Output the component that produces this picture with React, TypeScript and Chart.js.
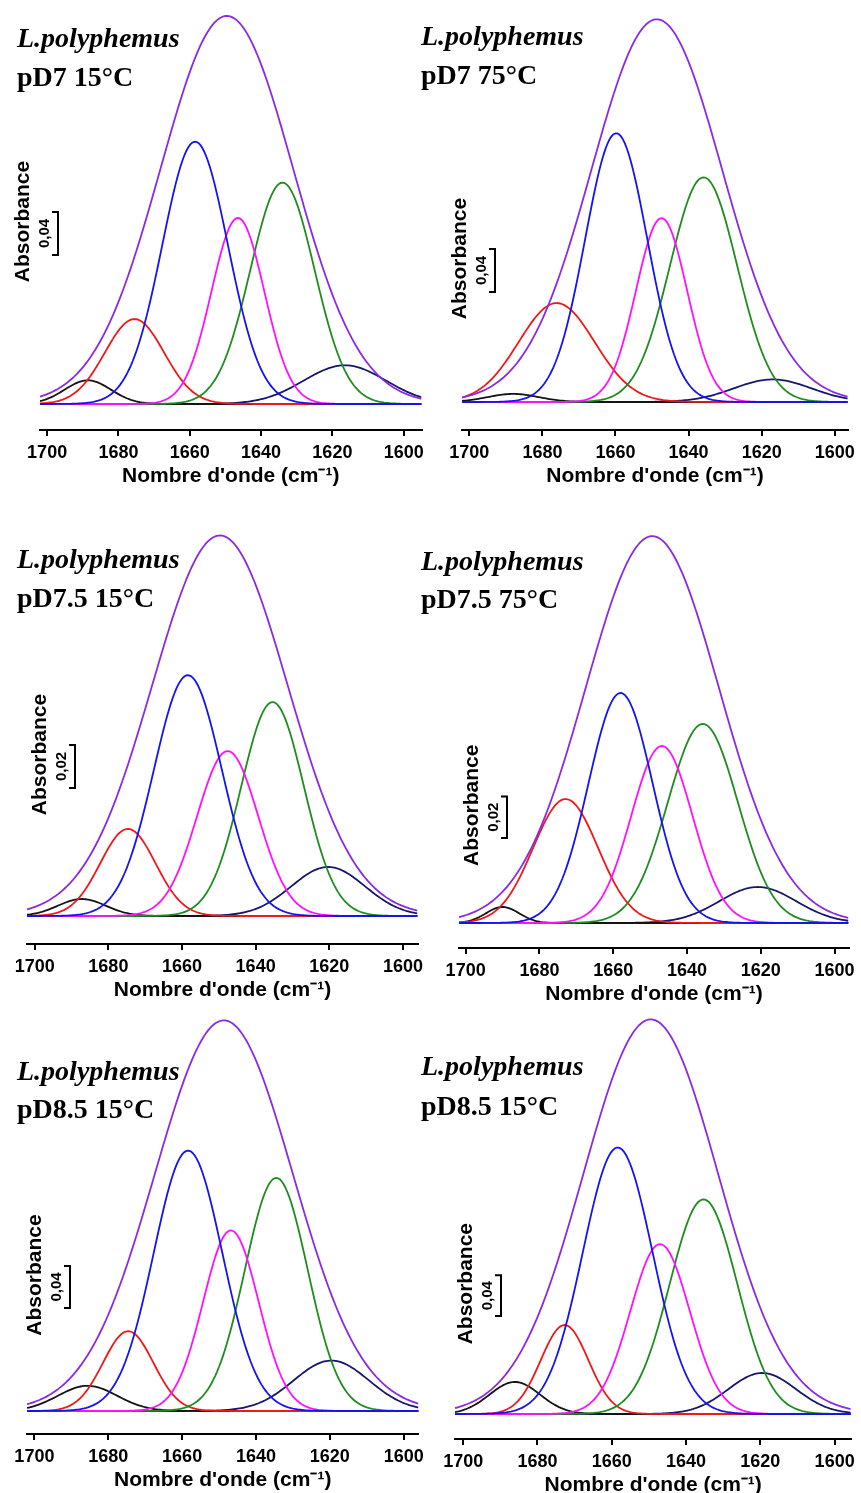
import React, { useEffect, useRef } from "react";
import { Chart, registerables } from "chart.js";

Chart.register(...registerables);

// ---------- shared labels ----------
const X_TICKS = [1700, 1680, 1660, 1640, 1620, 1600];
const X_TITLE = "Nombre d'onde (cm\u207B\u00B9)";
const Y_TITLE = "Absorbance";
const SPECIES = "L.polyphemus";
const CONDITIONS = ["pD7 15°C", "pD7 75°C", "pD7.5 15°C", "pD7.5 75°C", "pD8.5 15°C", "pD8.5 15°C"];
const SCALE_VALUES = [0.04, 0.04, 0.02, 0.02, 0.04, 0.04];
const SCALE_LABELS = ["0,04", "0,04", "0,02", "0,02", "0,04", "0,04"];

// band order: envelope, ~1659 (blue), ~1647 (magenta), ~1635 (green), ~1675 (red), ~1688 (black), ~1618 (navy)
const BAND_NAMES = ["Spectre", "Bande 1659", "Bande 1647", "Bande 1635", "Bande 1675", "Bande 1688", "Bande 1618"];
const BAND_COLORS = ["#8a2be2", "#1414f0", "#ff10ff", "#1e8c1e", "#f01818", "#141414", "#16166e"];

// ---------- band parameters (centre cm-1, height abs, half-width sigma cm-1) ----------
const P1_CENTERS = [1649.6, 1658.5, 1646.5, 1634.0, 1675.5, 1688.6, 1616.5];
const P1_HEIGHTS = [0.361, 0.244, 0.173, 0.206, 0.079, 0.022, 0.036];
const P1_WIDTHS = [18.6, 9.2, 7.4, 9.0, 8.3, 6.5, 11.5];

const P2_CENTERS = [1648.7, 1659.8, 1647.4, 1635.9, 1676.1, 1688.0, 1617.0];
const P2_HEIGHTS = [0.356, 0.25, 0.171, 0.209, 0.092, 0.0075, 0.021];
const P2_WIDTHS = [17.9, 8.5, 7.0, 9.2, 10.4, 7.0, 10.6];

const P3_CENTERS = [1649.7, 1658.4, 1647.6, 1635.4, 1674.7, 1687.2, 1620.3];
const P3_HEIGHTS = [0.177, 0.112, 0.0767, 0.0995, 0.0405, 0.0079, 0.0228];
const P3_WIDTHS = [18.4, 9.25, 8.3, 8.5, 7.5, 6.5, 10.0];

const P4_CENTERS = [1649.4, 1658.0, 1646.8, 1635.7, 1672.9, 1690.0, 1620.8];
const P4_HEIGHTS = [0.186, 0.1106, 0.0851, 0.0957, 0.0596, 0.0077, 0.0173];
const P4_WIDTHS = [18.1, 8.7, 8.3, 9.5, 8.8, 4.5, 10.4];

const P5_CENTERS = [1648.7, 1658.4, 1646.8, 1634.5, 1674.6, 1685.6, 1619.6];
const P5_HEIGHTS = [0.372, 0.248, 0.172, 0.222, 0.076, 0.024, 0.048];
const P5_WIDTHS = [18.7, 9.3, 7.5, 8.5, 6.8, 8.0, 10.2];

const P6_CENTERS = [1649.5, 1658.4, 1647.0, 1635.3, 1672.7, 1686.1, 1619.5];
const P6_HEIGHTS = [0.388, 0.262, 0.167, 0.211, 0.0875, 0.0315, 0.0403];
const P6_WIDTHS = [18.2, 9.4, 8.0, 9.1, 6.4, 6.8, 9.1];

const CENTERS = [P1_CENTERS, P2_CENTERS, P3_CENTERS, P4_CENTERS, P5_CENTERS, P6_CENTERS];
const HEIGHTS = [P1_HEIGHTS, P2_HEIGHTS, P3_HEIGHTS, P4_HEIGHTS, P5_HEIGHTS, P6_HEIGHTS];
const WIDTHS = [P1_WIDTHS, P2_WIDTHS, P3_WIDTHS, P4_WIDTHS, P5_WIDTHS, P6_WIDTHS];

// ---------- layout (absolute page pixels) ----------
type Layout = {
  cLeft: number; cTop: number; cWidth: number;
  areaLeft: number; areaRight: number; axisY: number; baselineY: number;
  pxPerUnit: number; xLeft: number; xRight: number;
  barX: number; barBottom: number;
  titleX: number; title1Y: number; title2Y: number;
};

const LAYOUTS: Layout[] = [
  { cLeft: 0, cTop: 0, cWidth: 430, areaLeft: 40, areaRight: 424, axisY: 430, baselineY: 404, pxPerUnit: 1075, xLeft: 1702, xRight: 1595, barX: 58, barBottom: 255, titleX: 17, title1Y: 47, title2Y: 86 },
  { cLeft: 410, cTop: 0, cWidth: 451, areaLeft: 462, areaRight: 855, axisY: 430, baselineY: 402, pxPerUnit: 1075, xLeft: 1702, xRight: 1596.4, barX: 495, barBottom: 292, titleX: 421, title1Y: 45, title2Y: 84 },
  { cLeft: 0, cTop: 500, cWidth: 430, areaLeft: 27, areaRight: 418, axisY: 944, baselineY: 916, pxPerUnit: 2150, xLeft: 1702.1, xRight: 1595.9, barX: 75, barBottom: 788, titleX: 17, title1Y: 568, title2Y: 607 },
  { cLeft: 410, cTop: 500, cWidth: 451, areaLeft: 459, areaRight: 849, axisY: 948, baselineY: 923, pxPerUnit: 2080, xLeft: 1701.8, xRight: 1596.1, barX: 507, barBottom: 838, titleX: 421, title1Y: 570, title2Y: 608 },
  { cLeft: 0, cTop: 1000, cWidth: 430, areaLeft: 27, areaRight: 423, axisY: 1434, baselineY: 1411, pxPerUnit: 1050, xLeft: 1702, xRight: 1596, barX: 70, barBottom: 1308, titleX: 17, title1Y: 1080, title2Y: 1118 },
  { cLeft: 410, cTop: 1000, cWidth: 451, areaLeft: 455, areaRight: 853, axisY: 1439, baselineY: 1414, pxPerUnit: 1017, xLeft: 1702.2, xRight: 1595.5, barX: 501, barBottom: 1316, titleX: 421, title1Y: 1075, title2Y: 1115 },
];

const AXIS_BOX = 60;
const PAD_TOP = 5;
const SANS = '"Liberation Sans", Arial, Helvetica, sans-serif';
const SERIF = '"Liberation Serif", "Times New Roman", serif';

function bandPoints(c: number, h: number, s: number, x0: number, x1: number) {
  const pts: { x: number; y: number }[] = [];
  for (let x = x0; x >= x1; x -= 0.5) {
    pts.push({ x, y: h * Math.exp(-((x - c) * (x - c)) / (2 * s * s)) });
  }
  return pts;
}

function Panel({ idx }: { idx: number }) {
  const ref = useRef<HTMLCanvasElement | null>(null);
  const L = LAYOUTS[idx];
  const cHeight = L.axisY - L.cTop + AXIS_BOX;

  useEffect(() => {
    if (!ref.current) return;
    const areaTop = L.cTop + PAD_TOP;
    const yMax = (L.baselineY - areaTop) / L.pxPerUnit;
    const yMin = -(L.axisY - L.baselineY) / L.pxPerUnit;

    const datasets = BAND_NAMES.map((name, i) => ({
      label: name,
      data: bandPoints(CENTERS[idx][i], HEIGHTS[idx][i], WIDTHS[idx][i], L.xLeft, L.xRight),
      borderColor: BAND_COLORS[i],
      borderWidth: 1.8,
      pointRadius: 0,
      tension: 0,
      fill: false,
    }));

    const annotate = {
      id: "annotate",
      afterDraw(chart: any) {
        const ctx = chart.ctx as CanvasRenderingContext2D;
        const y = chart.scales.y;
        ctx.save();
        ctx.fillStyle = "#000";
        ctx.textBaseline = "alphabetic";
        ctx.textAlign = "left";
        ctx.font = `italic bold 28px ${SERIF}`;
        ctx.fillText(SPECIES, L.titleX - L.cLeft, L.title1Y - L.cTop);
        ctx.font = `bold 28px ${SERIF}`;
        ctx.fillText(CONDITIONS[idx], L.titleX - L.cLeft, L.title2Y - L.cTop);

        // scale bar
        const len = y.getPixelForValue(0) - y.getPixelForValue(SCALE_VALUES[idx]);
        const bx = L.barX - L.cLeft;
        const bb = L.barBottom - L.cTop;
        const bt = bb - len;
        ctx.strokeStyle = "#000";
        ctx.lineWidth = 2;
        ctx.beginPath();
        ctx.moveTo(bx, bt);
        ctx.lineTo(bx, bb);
        ctx.moveTo(bx - 6, bt);
        ctx.lineTo(bx + 1, bt);
        ctx.moveTo(bx - 6, bb);
        ctx.lineTo(bx + 1, bb);
        ctx.stroke();
        const mid = (bt + bb) / 2;

        ctx.textAlign = "center";
        ctx.textBaseline = "middle";
        ctx.save();
        ctx.translate(bx - 13, mid);
        ctx.rotate(-Math.PI / 2);
        ctx.font = `bold 15px ${SANS}`;
        ctx.fillText(SCALE_LABELS[idx], 0, 0);
        ctx.restore();

        ctx.save();
        ctx.translate(bx - 35, mid - 12);
        ctx.rotate(-Math.PI / 2);
        ctx.font = `bold 21px ${SANS}`;
        ctx.fillText(Y_TITLE, 0, 0);
        ctx.restore();
        ctx.restore();
      },
    };

    const chart = new Chart(ref.current, {
      type: "line",
      data: { datasets },
      options: {
        responsive: false,
        animation: false,
        layout: {
          autoPadding: false,
          padding: {
            left: L.areaLeft - L.cLeft,
            right: L.cLeft + L.cWidth - L.areaRight,
            top: PAD_TOP,
            bottom: 0,
          },
        },
        plugins: { legend: { display: false }, tooltip: { enabled: false } },
        scales: {
          x: {
            type: "linear",
            reverse: true,
            min: L.xRight,
            max: L.xLeft,
            afterBuildTicks: (s: any) => {
              s.ticks = X_TICKS.map((v) => ({ value: v }));
            },
            afterFit: (s: any) => {
              s.height = AXIS_BOX;
            },
            grid: { display: true, drawOnChartArea: false, drawTicks: true, tickLength: 6, lineWidth: 2, color: "#000" },
            border: { display: true, color: "#000", width: 2 },
            ticks: {
              color: "#000",
              padding: 6,
              maxRotation: 0,
              autoSkip: false,
              font: { family: SANS, size: 18, weight: "bold" },
              callback: (v: any) => String(v),
            },
            title: {
              display: true,
              text: X_TITLE,
              color: "#000",
              font: { family: SANS, size: 21, weight: "bold" },
              padding: { top: 0, bottom: 1 },
            },
          },
          y: { type: "linear", display: false, min: yMin, max: yMax },
        },
      },
      plugins: [annotate],
    } as any);
    return () => chart.destroy();
  }, [idx]);

  return (
    <canvas
      ref={ref}
      width={L.cWidth}
      height={cHeight}
      style={{ position: "absolute", left: L.cLeft, top: L.cTop, width: L.cWidth, height: cHeight }}
    />
  );
}

export default function App() {
  return (
    <div style={{ position: "absolute", left: 0, top: 0, width: 861, height: 1493, background: "#fff", overflow: "hidden" }}>
      {LAYOUTS.map((_, i) => (
        <Panel key={i} idx={i} />
      ))}
    </div>
  );
}
